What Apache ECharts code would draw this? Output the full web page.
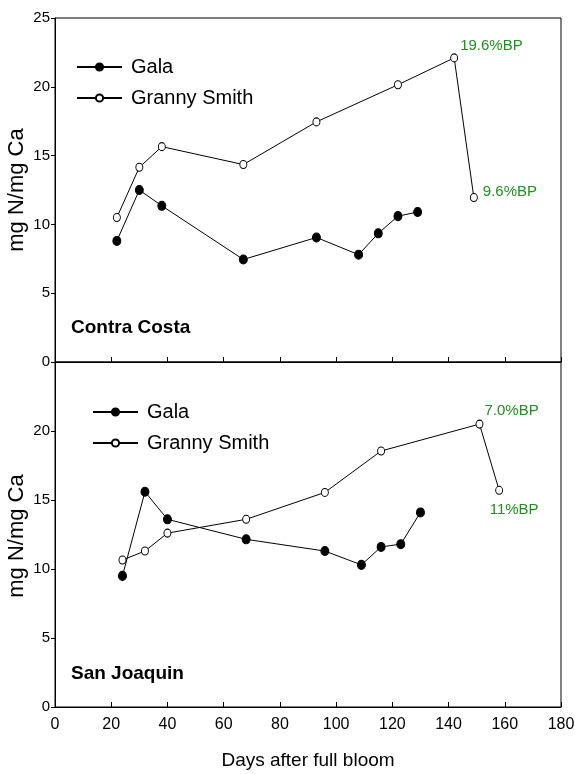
<!DOCTYPE html>
<html>
<head>
<meta charset="utf-8">
<script src="https://cdn.jsdelivr.net/npm/echarts@6/dist/echarts.min.js"></script>
<style>
  html, body { margin: 0; padding: 0; background: #fff; }
  #chart { width: 575px; height: 774px; }
</style>
</head>
<body>
<div id="chart"></div>
<script>
// Contra Costa (top panel)
var ccGalaDays = [22, 30, 38, 67, 93, 108, 115, 122, 129];
var ccGalaVals = [8.8, 12.5, 11.35, 7.45, 9.05, 7.8, 9.35, 10.6, 10.9];
var ccGsDays = [22, 30, 38, 67, 93, 122, 142, 149];
var ccGsVals = [10.5, 14.15, 15.65, 14.35, 17.45, 20.15, 22.1, 11.95];

// San Joaquin (bottom panel)
var sjGalaDays = [24, 32, 40, 68, 96, 109, 116, 123, 130];
var sjGalaVals = [9.5, 15.6, 13.6, 12.15, 11.3, 10.3, 11.6, 11.8, 14.1];
var sjGsDays = [24, 32, 40, 68, 96, 116, 151, 158];
var sjGsVals = [10.65, 11.3, 12.6, 13.6, 15.55, 18.55, 20.5, 15.7];

// percent bitter pit notes: [panel, point index, text]
var bpNotes = [
  ['cc', 6, '19.6%BP'],
  ['cc', 7, '9.6%BP'],
  ['sj', 6, '7.0%BP'],
  ['sj', 7, '11%BP']
];

var yTicks = [0, 5, 10, 15, 20, 25];
var yTitle = 'mg N/mg Ca';
var font = '"Liberation Sans", Arial, sans-serif';
var green = '#1f8f1f';

var noteStyle = {
  '19.6%BP': { position: 'right', offset: [-3, -12] },
  '9.6%BP': { position: 'right', offset: [0, -6] },
  '7.0%BP': { position: 'right', offset: [-4, -13] },
  '11%BP': { position: 'bottom', offset: [15, 2] }
};

function pairs(days, vals, panel) {
  return days.map(function(d, i) {
    var item = { value: [d, vals[i]] };
    bpNotes.forEach(function(n) {
      if (n[0] === panel && n[1] === i) {
        item.label = {
          show: true,
          formatter: n[2],
          color: green,
          fontFamily: font,
          fontSize: 15,
          position: noteStyle[n[2]].position,
          offset: noteStyle[n[2]].offset
        };
      }
    });
    return item;
  });
}

function lineSeries(name, data, gi, filled) {
  return {
    name: name,
    type: 'line',
    xAxisIndex: gi,
    yAxisIndex: gi,
    data: data,
    symbol: 'circle',
    symbolSize: filled ? [8, 9] : [7, 8],
    lineStyle: { color: '#000', width: 1 },
    itemStyle: { color: filled ? '#000' : '#fff', borderColor: '#000', borderWidth: 1 },
    label: { show: false },
    emphasis: { disabled: true },
    animation: false
  };
}

function xAxis(gi, showLabels) {
  return {
    type: 'value',
    gridIndex: gi,
    min: 0,
    max: 180,
    interval: 20,
    axisLine: { lineStyle: { color: '#000', width: 1 } },
    axisTick: { show: true, inside: true, length: 5, lineStyle: { color: '#000' } },
    axisLabel: { show: showLabels, color: '#000', fontSize: 16, fontFamily: font, margin: 10 },
    splitLine: { show: false },
    name: showLabels ? 'Days after full bloom' : '',
    nameLocation: 'middle',
    nameGap: 44,
    nameTextStyle: { color: '#000', fontSize: 19, fontFamily: font }
  };
}

function yAxis(gi, hideTop) {
  return {
    type: 'value',
    gridIndex: gi,
    min: yTicks[0],
    max: yTicks[yTicks.length - 1],
    interval: 5,
    axisLine: { show: true, lineStyle: { color: '#000', width: 1 } },
    axisTick: { show: true, inside: false, length: 4, lineStyle: { color: '#000' } },
    axisLabel: {
      color: '#000', fontSize: 15, fontFamily: font, margin: 5,
      formatter: function(v) { return (hideTop && v === 25) ? '' : v; }
    },
    splitLine: { show: false }
  };
}

function legend(left, top) {
  return {
    data: ['Gala', 'Granny Smith'],
    orient: 'vertical',
    left: left,
    top: top,
    itemWidth: 45,
    itemHeight: 9,
    itemGap: 11,
    selectedMode: false,
    textStyle: { color: '#000', fontSize: 20, fontFamily: font, padding: [0, 0, 0, 4] }
  };
}

function yName(cy) {
  return {
    type: 'text',
    x: 17,
    y: cy,
    rotation: Math.PI / 2,
    style: {
      text: yTitle,
      fill: '#000',
      font: '22px ' + font,
      textAlign: 'center',
      textVerticalAlign: 'middle'
    }
  };
}

var chart = echarts.init(document.getElementById('chart'));
chart.setOption({
  backgroundColor: '#fff',
  animation: false,
  title: [
    { text: 'Contra Costa', left: 66, top: 313, textStyle: { fontSize: 19, fontWeight: 'bold', color: '#000', fontFamily: font } },
    { text: 'San Joaquin', left: 66, top: 659, textStyle: { fontSize: 19, fontWeight: 'bold', color: '#000', fontFamily: font } }
  ],
  legend: [legend(71, 52), legend(87, 397)],
  grid: [
    { left: 55, top: 18, width: 506, height: 344, show: true, borderColor: '#000', borderWidth: 1, backgroundColor: 'transparent', outerBoundsMode: 'none' },
    { left: 55, top: 362, width: 506, height: 345, show: true, borderColor: '#000', borderWidth: 1, backgroundColor: 'transparent', outerBoundsMode: 'none' }
  ],
  graphic: [yName(190), yName(536)],
  xAxis: [xAxis(0, false), xAxis(1, true)],
  yAxis: [yAxis(0, false), yAxis(1, true)],
  series: [
    lineSeries('Gala', pairs(ccGalaDays, ccGalaVals, 'ccg'), 0, true),
    lineSeries('Granny Smith', pairs(ccGsDays, ccGsVals, 'cc'), 0, false),
    lineSeries('Gala', pairs(sjGalaDays, sjGalaVals, 'sjg'), 1, true),
    lineSeries('Granny Smith', pairs(sjGsDays, sjGsVals, 'sj'), 1, false)
  ]
});
</script>
</body>
</html>
